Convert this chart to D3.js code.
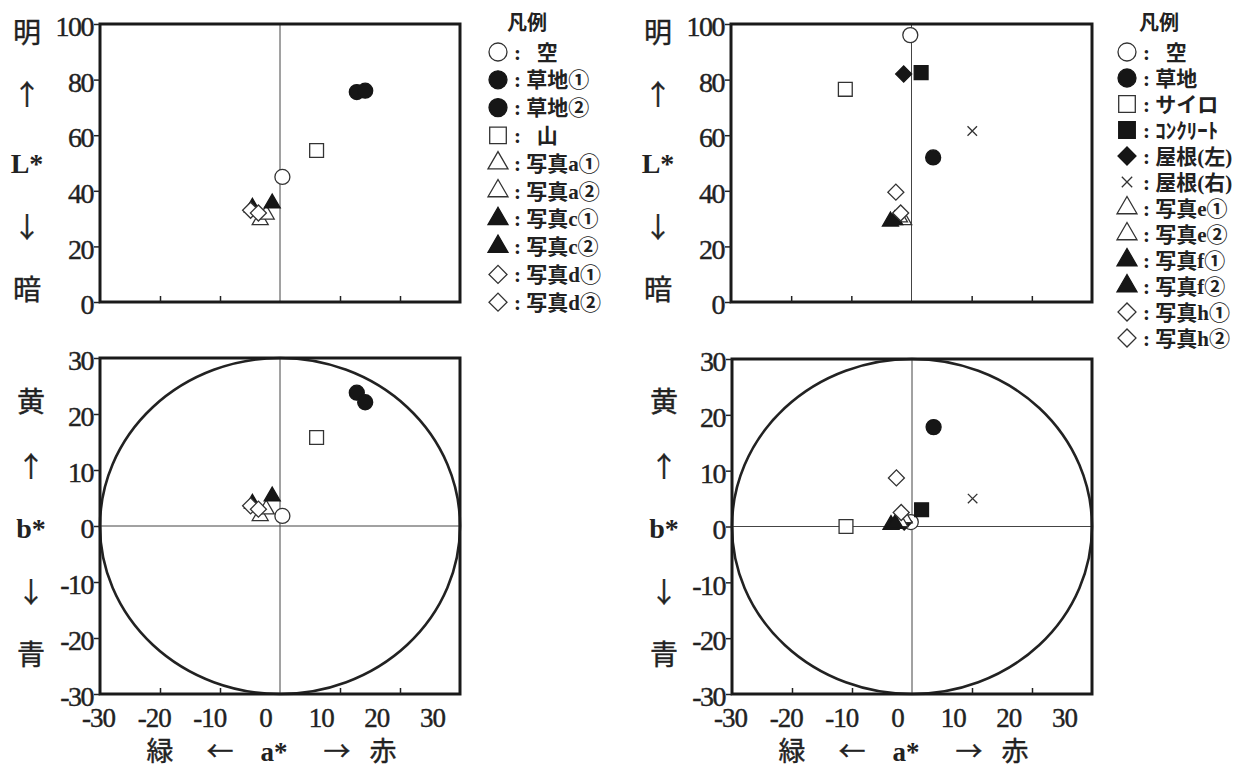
<!DOCTYPE html>
<html>
<head>
<meta charset="utf-8">
<script src="https://cdn.jsdelivr.net/npm/d3@7"></script>
<style>
body { margin: 0; background: #fff; }
svg { display: block; }
</style>
</head>
<body>
<div class="container"></div>
<script>
const WIDTH = 1252;
const HEIGHT = 771;

// left pair of charts (空, 草地, 山, 写真 a/c/d)
var leftNames  = ["空", "草地①", "草地②", "山", "写真a①", "写真a②", "写真c①", "写真c②", "写真d①", "写真d②"];
var leftShapes = ["circleOpen", "circleFill", "circleFill", "squareOpen", "triOpen", "triOpen", "triFill", "triFill", "diaOpen", "diaOpen"];
var leftA = [0.4, 12.8, 14.2, 6.1, -3.3, -2.3, -4.6, -1.3, -4.9, -3.6];
var leftL = [45, 75.5, 76, 54.5, 29.5, 31.5, 34, 35.5, 33, 32];
var leftB = [1.8, 23.8, 22.1, 15.8, 1.8, 3, 4, 5.3, 3.6, 3];

// right pair of charts
var rightNames  = ["空", "草地", "サイロ", "ｺﾝｸﾘｰﾄ", "屋根(左)", "屋根(右)", "写真e①", "写真e②", "写真f①", "写真f②", "写真h①", "写真h②"];
var rightShapes = ["circleOpen", "circleFill", "squareOpen", "squareFill", "diaFill", "cross", "triOpen", "triOpen", "triFill", "triFill", "diaOpen", "diaOpen"];
var rightA = [-0.2, 3.6, -11, 1.6, -1.3, 10.1, -1.3, -2, -3.5, -2.8, -2.6, -1.8];
var rightL = [96, 52, 76.5, 82.5, 82, 61.5, 29.5, 30.5, 29, 29.5, 39.5, 32];
var rightB = [0.8, 17.8, 0, 3, 0.8, 5, 1.5, 0.8, 0.3, 0.5, 8.7, 2.5];

// ticks and axis words
var lTicks = [0, 20, 40, 60, 80, 100];
var bTicks = [-30, -20, -10, 0, 10, 20, 30];
var aTicks = [-30, -20, -10, 0, 10, 20, 30];
var aMinor = [-20, -10, 10, 20];
var lWords = ["明", "↑", "L*", "↓", "暗"];
var bWords = ["黄", "↑", "b*", "↓", "青"];
var aWords = ["緑", "←", "a*", "→", "赤"];

var SERIF = "'Liberation Serif','Times New Roman',serif";
var CJK = "'Noto Sans CJK JP','Noto Sans CJK SC',sans-serif";
var plain = function(d){ return String(d); };

var drawMarker = function(sel, shape, w){
    var filled = /Fill/.test(shape);
    var p;
    if (shape.indexOf("circle") == 0) {
        p = sel.append("path").attr("d", d3.symbol(d3.symbolCircle, Math.PI * w * w / 4)());
    } else if (shape.indexOf("square") == 0) {
        p = sel.append("path").attr("d", d3.symbol(d3.symbolSquare, w * w * 0.85)());
    } else if (shape.indexOf("tri") == 0) {
        var r = w / (2 * Math.sqrt(3));
        p = sel.append("path").attr("d", d3.symbol(d3.symbolTriangle, 3 * Math.sqrt(3) * r * r)());
    } else if (shape.indexOf("dia") == 0) {
        p = sel.append("path").attr("d", d3.symbol(d3.symbolSquare, w * w / 2)())
            .attr("transform", "rotate(45)");
    } else {
        var t = d3.symbolTimes || d3.symbolX;
        p = sel.append("path").attr("d", d3.symbol(t, w * w / 2)());
        p.style("fill", "none").style("stroke", "#333").style("stroke-width", 1.3);
        return;
    }
    p.style("fill", filled ? "#161616" : "#fff")
     .style("stroke", filled ? "#161616" : "#333")
     .style("stroke-width", 1.3);
};

var drawPanel = function(svg, p){
    var x = d3.scaleLinear().domain([-30, 30]).range([p.left, p.right]);
    var y = d3.scaleLinear().domain(p.yDomain).range([p.bottom, p.top]);

    if (p.ring) {
        svg.append("ellipse")
            .attr("cx", x(0)).attr("cy", y(0))
            .attr("rx", x(30) - x(0)).attr("ry", y(0) - y(30))
            .style("fill", "none").style("stroke", "#222").style("stroke-width", 2.6);
        svg.append("line")
            .attr("x1", x(-30)).attr("x2", x(30)).attr("y1", y(0)).attr("y2", y(0))
            .style("stroke", "#444").style("stroke-width", 1);
    }
    svg.append("line")
        .attr("x1", x(0)).attr("x2", x(0)).attr("y1", p.top).attr("y2", p.bottom)
        .style("stroke", "#444").style("stroke-width", 1);

    // points
    var pts = svg.append("g");
    p.shapes.forEach(function(s, i){
        var g = pts.append("g")
            .attr("transform", "translate(" + x(p.aVals[i]) + "," + y(p.yVals[i]) + ")");
        var w = s.indexOf("circle") == 0 ? 15 : (s.indexOf("square") == 0 ? 15 : (s == "cross" ? 11 : 16));
        drawMarker(g, s, w);
    });

    // frame
    svg.append("rect")
        .attr("x", p.left).attr("y", p.top)
        .attr("width", p.right - p.left).attr("height", p.bottom - p.top)
        .style("fill", "none").style("stroke", "#1a1a1a").style("stroke-width", 3);

    // left axis
    var ya = svg.append("g")
        .attr("transform", "translate(" + p.left + ",0)")
        .call(d3.axisLeft(y).tickValues(p.yTicks).tickSize(6).tickPadding(1).tickFormat(plain));
    ya.select(".domain").remove();
    ya.selectAll("line").style("stroke", "#222").style("stroke-width", 1.5);
    ya.selectAll("text")
        .attr("dy", "0.42em")
        .style("font-family", SERIF).style("font-size", "28px")
        .style("letter-spacing", "-1.5px").style("fill", "#222")
        .style("stroke", "#222").style("stroke-width", 0.4);

    // inward bottom ticks
    var xa = svg.append("g")
        .attr("transform", "translate(0," + p.bottom + ")")
        .call(d3.axisBottom(x).tickValues(aMinor).tickSize(-6).tickFormat(""));
    xa.select(".domain").remove();
    xa.selectAll("line").style("stroke", "#222").style("stroke-width", 1.5);

    if (p.xLabels) {
        // the printed labels sit on a slightly narrower spacing than the ticks
        var lab = d3.scaleLinear().domain([-30, 30]).range([p.left - 2, p.left + 332]);
        var xl = svg.append("g")
            .attr("transform", "translate(0," + p.bottom + ")")
            .call(d3.axisBottom(lab).tickValues(aTicks).tickSize(0).tickFormat(plain));
        xl.select(".domain").remove();
        xl.selectAll("text")
            .attr("y", 24).attr("dy", "0.35em")
            .style("font-family", SERIF).style("font-size", "27px")
            .style("letter-spacing", "-1px").style("fill", "#222")
            .style("stroke", "#222").style("stroke-width", 0.4);

        var ax = [60, 120, 174, 237, 283];
        svg.append("g").selectAll("text")
            .data(aWords).enter().append("text")
            .attr("x", function(d, i){ return p.left + ax[i]; })
            .attr("y", p.bottom + 58)
            .attr("dy", "0.35em")
            .attr("text-anchor", "middle")
            .style("font-family", function(d){ return d == "a*" ? SERIF : CJK; })
            .style("font-weight", function(d){ return d == "a*" ? "bold" : "normal"; })
            .style("font-size", "27px")
            .style("fill", "#222")
            .style("stroke", "#222").style("stroke-width", function(d){ return d == "a*" ? 0 : 0.4; })
            .text(function(d){ return d; });
    }

    // side words
    svg.append("g").selectAll("text")
        .data(p.words).enter().append("text")
        .attr("x", p.sideX)
        .attr("y", function(d, i){ return p.sideY[i]; })
        .attr("dy", "0.36em")
        .attr("text-anchor", "middle")
        .style("font-family", function(d){ return /\*/.test(d) ? SERIF : CJK; })
        .style("font-weight", function(d){ return /\*/.test(d) ? "bold" : "normal"; })
        .style("font-size", "28px")
        .style("fill", "#222")
        .style("stroke", "#222").style("stroke-width", function(d){ return /\*/.test(d) ? 0 : 0.4; })
        .text(function(d){ return d; });
};

var drawLegend = function(svg, lg){
    svg.append("text")
        .attr("x", lg.titleX).attr("y", lg.top - 29)
        .attr("dy", "0.36em").attr("text-anchor", "middle")
        .style("font-family", CJK).style("font-weight", "bold")
        .style("font-size", "20px").style("fill", "#222")
        .text("凡例");
    lg.names.forEach(function(n, i){
        var cy = lg.top + i * lg.step;
        var g = svg.append("g").attr("transform", "translate(" + lg.x + "," + cy + ")");
        var s = lg.shapes[i];
        drawMarker(g, s, s == "cross" ? 12 : (s.indexOf("tri") == 0 ? 20 : 18));
        var pad = (n.length == 1) ? "\u2002" : "";
        svg.append("text")
            .attr("x", lg.x + 16).attr("y", cy)
            .attr("dy", "0.36em")
            .style("font-family", SERIF + "," + CJK)
            .style("font-weight", "bold")
            .style("font-size", "21px").style("fill", "#222")
            .text(": " + pad + n);
    });
};

var load = function(){
    var svg = d3.select(".container")
        .append("svg")
        .attr("width", WIDTH)
        .attr("height", HEIGHT);

    var topY = [33, 95, 163, 228, 290];
    var botY = [402, 467, 528, 593, 655];

    drawPanel(svg, {left: 100, right: 460, top: 24, bottom: 302, yDomain: [0, 100], yTicks: lTicks,
        yVals: leftL, aVals: leftA, shapes: leftShapes, ring: false, xLabels: false,
        words: lWords, sideX: 27, sideY: topY});
    drawPanel(svg, {left: 100, right: 460, top: 358, bottom: 694, yDomain: [-30, 30], yTicks: bTicks,
        yVals: leftB, aVals: leftA, shapes: leftShapes, ring: true, xLabels: true,
        words: bWords, sideX: 31, sideY: botY});
    drawPanel(svg, {left: 731, right: 1092, top: 24, bottom: 302, yDomain: [0, 100], yTicks: lTicks,
        yVals: rightL, aVals: rightA, shapes: rightShapes, ring: false, xLabels: false,
        words: lWords, sideX: 658, sideY: topY});
    drawPanel(svg, {left: 732, right: 1092, top: 359, bottom: 694, yDomain: [-30, 30], yTicks: bTicks,
        yVals: rightB, aVals: rightA, shapes: rightShapes, ring: true, xLabels: true,
        words: bWords, sideX: 664, sideY: botY});

    drawLegend(svg, {x: 498, top: 52, step: 27.8, titleX: 527, names: leftNames, shapes: leftShapes});
    drawLegend(svg, {x: 1127, top: 52, step: 26.0, titleX: 1159, names: rightNames, shapes: rightShapes});
};

window.onload = load;
</script>
</body>
</html>
